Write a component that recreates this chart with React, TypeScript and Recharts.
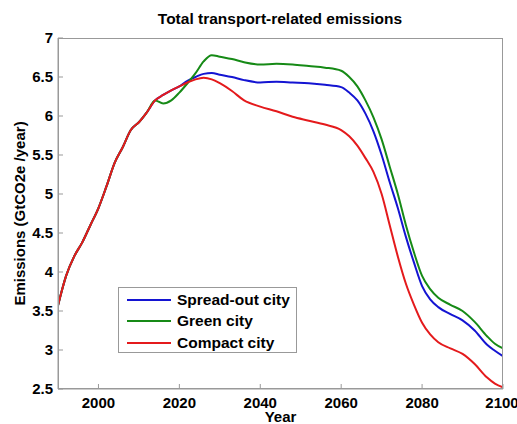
import React from 'react';
import { LineChart, Line, XAxis, YAxis, Label } from 'recharts';

const years = [
  1990, 1992, 1994, 1996, 1998, 2000, 2002, 2004, 2006, 2008, 2010, 2012, 2014, 2016, 2018,
  2020, 2022, 2024, 2026, 2028, 2030, 2033, 2036, 2040, 2044, 2048, 2052, 2056, 2060, 2062,
  2064, 2066, 2068, 2070, 2072, 2074, 2076, 2078, 2080, 2082, 2084, 2087, 2090, 2093, 2096,
  2098, 2100,
];

const spreadOut = [
  3.57, 3.95, 4.2, 4.38, 4.6, 4.82, 5.1, 5.4, 5.6, 5.82, 5.92, 6.05, 6.2, 6.27, 6.33,
  6.38, 6.45, 6.5, 6.54, 6.55, 6.53, 6.5, 6.46, 6.43, 6.44, 6.43, 6.42, 6.4, 6.37, 6.3,
  6.2, 6.03, 5.8, 5.5, 5.15, 4.82, 4.45, 4.12, 3.82, 3.65, 3.55, 3.46, 3.38, 3.25, 3.07,
  2.99, 2.92,
];

const green = [
  3.57, 3.95, 4.2, 4.38, 4.6, 4.82, 5.1, 5.4, 5.6, 5.82, 5.92, 6.05, 6.2, 6.16, 6.2,
  6.3, 6.42, 6.55, 6.7, 6.78, 6.76, 6.73, 6.69, 6.66, 6.67, 6.66, 6.64, 6.62, 6.58, 6.5,
  6.38, 6.2, 5.98, 5.7, 5.35, 5.0, 4.6, 4.25, 3.95, 3.78, 3.67, 3.58, 3.5, 3.36, 3.18,
  3.08, 3.02,
];

const compact = [
  3.57, 3.95, 4.2, 4.38, 4.6, 4.82, 5.1, 5.4, 5.6, 5.82, 5.92, 6.05, 6.2, 6.27, 6.33,
  6.38, 6.43, 6.47, 6.49, 6.47, 6.42, 6.32, 6.2, 6.12, 6.06, 5.99, 5.94, 5.89, 5.82, 5.74,
  5.62, 5.46, 5.28, 5.0, 4.6, 4.2, 3.85, 3.58, 3.35, 3.2, 3.1, 3.02, 2.95, 2.82, 2.65,
  2.57, 2.52,
];

const xTicks = [2000, 2020, 2040, 2060, 2080, 2100];
const yTicks = [2.5, 3, 3.5, 4, 4.5, 5, 5.5, 6, 6.5, 7];

const seriesNames = ['Spread-out city', 'Green city', 'Compact city'];
const seriesKeys = ['spread', 'green', 'compact'];
const seriesColors = ['#1414d2', '#168a16', '#e41a1c'];

const data = years.map((y, i) => ({
  year: y,
  spread: spreadOut[i],
  green: green[i],
  compact: compact[i],
}));

const font = '"Liberation Sans", Arial, sans-serif';
const axisGrey = '#999999';

function LegendBox() {
  return (
    <div
      style={{
        position: 'absolute',
        left: 118,
        top: 287,
        width: 179,
        height: 66,
        border: `1px solid ${axisGrey}`,
        background: '#fff',
        boxSizing: 'border-box',
        padding: '1px 0 0 8px',
        fontFamily: font,
        fontWeight: 'bold',
        fontSize: 15.5,
        color: '#000',
      }}
    >
      {seriesNames.map((n, i) => (
        <div key={n} style={{ display: 'flex', alignItems: 'center', height: 21.5 }}>
          <div style={{ width: 44, height: 2, background: seriesColors[i], marginRight: 6 }} />
          <span>{n}</span>
        </div>
      ))}
    </div>
  );
}

export default function App() {
  return (
    <div style={{ position: 'absolute', left: 0, top: 0, width: 517, height: 424, background: '#fff', overflow: 'hidden' }}>
      <div
        style={{
          position: 'absolute',
          top: 10,
          left: 0,
          width: 560,
          textAlign: 'center',
          fontFamily: font,
          fontWeight: 'bold',
          fontSize: 15.5,
          color: '#000',
        }}
      >
        Total transport-related emissions
      </div>
      <LineChart
        width={517}
        height={424}
        data={data}
        margin={{ top: 38, right: 14, bottom: 0, left: 0 }}
        style={{ fontFamily: font }}
      >
        <XAxis
          dataKey="year"
          type="number"
          domain={[1990, 2100]}
          ticks={xTicks}
          allowDataOverflow
          height={35}
          tickSize={-5}
          tickMargin={13}
          stroke={axisGrey}
          tick={{ fill: '#000', fontWeight: 'bold', fontSize: 15 }}
        >
          <Label value="Year" position="insideBottom" offset={2} style={{ fill: '#000', fontWeight: 'bold', fontSize: 15 }} />
        </XAxis>
        <XAxis
          xAxisId="top"
          orientation="top"
          dataKey="year"
          type="number"
          domain={[1990, 2100]}
          ticks={xTicks}
          allowDataOverflow
          height={0}
          tickSize={-5}
          tickFormatter={() => ''}
          stroke={axisGrey}
        />
        <YAxis
          type="number"
          domain={[2.5, 7]}
          ticks={yTicks}
          allowDataOverflow
          width={58}
          tickSize={-5}
          tickMargin={10}
          stroke={axisGrey}
          tick={{ fill: '#000', fontWeight: 'bold', fontSize: 15 }}
        >
          <Label
            value="Emissions (GtCO2e /year)"
            angle={-90}
            position="insideLeft"
            offset={20}
            style={{ textAnchor: 'middle', fill: '#000', fontWeight: 'bold', fontSize: 15 }}
          />
        </YAxis>
        <YAxis
          yAxisId="right"
          orientation="right"
          type="number"
          domain={[2.5, 7]}
          ticks={yTicks}
          allowDataOverflow
          width={0}
          tickSize={-5}
          tickFormatter={() => ''}
          stroke={axisGrey}
        />
        {/* invisible series so the mirrored top/right axes get drawn */}
        <Line
          xAxisId="top"
          yAxisId="right"
          dataKey="compact"
          stroke="none"
          dot={false}
          legendType="none"
          isAnimationActive={false}
        />
        {seriesKeys.map((k, i) => (
          <Line
            key={k}
            dataKey={k}
            name={seriesNames[i]}
            type="monotone"
            stroke={seriesColors[i]}
            strokeWidth={2}
            dot={false}
            isAnimationActive={false}
          />
        ))}
      </LineChart>
      {/* plot frame */}
      <div
        style={{
          position: 'absolute',
          left: 58,
          top: 38,
          width: 445,
          height: 351,
          border: `1px solid ${axisGrey}`,
          boxSizing: 'border-box',
          pointerEvents: 'none',
        }}
      />
      <LegendBox />
    </div>
  );
}
